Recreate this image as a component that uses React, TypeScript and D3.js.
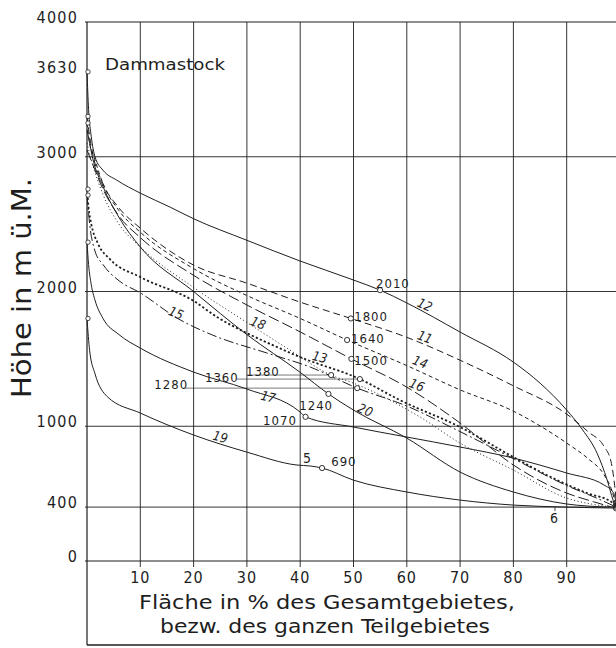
import * as d3 from "d3";

type Pt = [number, number];

// hypsometric curves: [area %, height m]
const curve12: Pt[] = [[0, 3630], [0.3, 3350], [0.8, 3150], [1.5, 3000], [3, 2900], [5.6, 2826], [10, 2730], [15.6, 2626], [20, 2540], [30, 2380], [40, 2226], [50, 2085], [55, 2010], [60, 1915], [70, 1699], [80, 1476], [85, 1320], [90, 1120], [93, 972], [95.7, 800], [97.6, 600], [98.7, 452], [99.2, 400]];
const curve11: Pt[] = [[0, 3300], [0.5, 3150], [1.2, 3000], [3, 2800], [6, 2620], [10, 2470], [20, 2196], [30, 2062], [40, 1921], [49.5, 1800], [60, 1660], [70, 1490], [80, 1300], [90, 1090], [94, 960], [97, 850], [98.3, 740], [99, 560], [99.4, 400]];
const curve14: Pt[] = [[0, 3250], [0.5, 3100], [1.3, 3000], [3, 2800], [6, 2600], [10, 2440], [20, 2170], [30, 1970], [40, 1800], [48.8, 1640], [60, 1450], [70, 1270], [80, 1112], [90, 875], [94, 760], [97, 640], [98.5, 520], [99.3, 400]];
const curve16: Pt[] = [[0, 3050], [1, 2950], [3, 2760], [6, 2560], [10, 2400], [20, 2120], [30, 1900], [40, 1700], [49.6, 1500], [60, 1290], [70, 1024], [80, 712], [90, 504], [95, 440], [98.5, 400]];
const curve13: Pt[] = [[0, 3100], [1, 2950], [3, 2720], [6, 2500], [10, 2330], [20, 2030], [30, 1770], [37.5, 1580], [45.8, 1380], [50, 1320], [62.5, 1068], [70, 875], [80, 675], [90, 467], [95, 420], [99, 400]];
const curve18: Pt[] = [[0, 2760], [0.3, 2620], [0.8, 2500], [2, 2360], [4.3, 2240], [10, 2107], [20, 1930], [24.4, 1810], [30, 1691], [35.7, 1587], [40, 1513], [51.2, 1350], [58.7, 1194], [70, 994], [80, 771], [87, 623], [93.8, 504], [98.7, 430], [99.3, 400]];
const curve15: Pt[] = [[0, 2715], [0.5, 2500], [1.5, 2300], [3, 2200], [6, 2080], [10, 1990], [17, 1800], [23.6, 1676], [33.8, 1543], [41.9, 1439], [50.7, 1283], [60, 1150], [70, 960], [80, 760], [90, 560], [96, 460], [99.3, 400]];
const curve17: Pt[] = [[0, 2366], [0.3, 2200], [0.8, 2050], [1.5, 1936], [3, 1800], [6, 1680], [10, 1580], [20, 1402], [30, 1276], [40, 1105], [41, 1070], [50, 994], [60, 920], [70, 846], [80, 764], [90, 653], [97, 564], [98.8, 504], [99.4, 400]];
const curve20: Pt[] = [[0, 3200], [0.5, 3100], [1, 3000], [3, 2780], [6, 2550], [10, 2330], [20, 2000], [30, 1680], [40, 1400], [45.3, 1240], [50, 1120], [60, 912], [70, 660], [80, 512], [90, 423], [98, 400]];
const curve19: Pt[] = [[0, 1800], [0.5, 1560], [1.5, 1390], [3.8, 1220], [10, 1098], [20, 935], [30, 808], [39.4, 712], [41.9, 705], [44.1, 690], [50, 600], [60, 512], [70, 452], [80, 415], [90, 400], [99, 393]];

const curveIds = ["12", "11", "14", "16", "13", "18", "15", "17", "20", "19"];
const curveData = [curve12, curve11, curve14, curve16, curve13, curve18, curve15, curve17, curve20, curve19];

// curve number labels, placed at [area %, height m]
const curveLabelPos: Pt[] = [[63.4, 1900], [63.4, 1662], [62.5, 1476], [61.9, 1306], [43.7, 1513], [32.1, 1765], [16.7, 1840], [34.0, 1217], [52.2, 1120], [25.0, 920]];
const extraLabels = ["5", "6"];
const extraLabelPos: Pt[] = [[41.3, 764], [87.6, 320]];

// marked heights on the curves
const markValues = [2010, 1800, 1640, 1500, 1380, 1360, 1280, 1240, 1070, 690];
const markPos: Pt[] = [[55, 2010], [49.5, 1800], [48.8, 1640], [49.6, 1500], [45.8, 1380], [51.2, 1350], [50.7, 1283], [45.3, 1240], [41, 1070], [44.1, 690]];
const markLabelPos: Pt[] = [[57.4, 2062], [53.3, 1817], [52.7, 1654], [53.3, 1491], [33.0, 1409], [25.3, 1365], [15.8, 1313], [43.0, 1157], [36.2, 1046], [48.2, 742]];
const markLeaderFrom = [null, null, null, null, 30, 28.1, 18, null, null, null];

const startHeights = [3630, 3300, 3250, 2760, 2715, 2366, 1800];
const endHeights = [430, 410, 400, 390];

const xTicks = [10, 20, 30, 40, 50, 60, 70, 80, 90];
const yGrid = [0, 400, 1000, 2000, 3000, 4000];
const yLabels = [0, 400, 1000, 2000, 3000, 3630, 4000];

const W = 616, H = 648;
const INK = "#1e1e1e";
const FONT = "'DejaVu Sans Condensed', 'DejaVu Sans', sans-serif";

const dashes: Record<string, string | undefined> = {
    "12": undefined, "11": "7,4", "14": "4,3", "16": "11,4", "13": "1,2.5",
    "18": "2.2,2.2", "15": "10,3,2,3", "17": undefined, "20": undefined, "19": undefined
};
const widths: Record<string, number> = {"13": 1, "18": 1.8};
const angles: Record<string, number> = {
    "12": 24, "11": 20, "14": 22, "16": 22, "13": 14, "18": 22, "15": 22, "17": 14, "20": 24, "19": 14
};

export default function App() {
    const x = d3.scaleLinear().domain([0, 100]).range([87, 620]);
    const y = d3.scaleLinear().domain([0, 4000]).range([561, 22]);

    const line = d3.line<Pt>()
        .x(d => x(d[0]))
        .y(d => y(d[1]))
        .curve(d3.curveMonotoneX);

    return <div style={{position: "absolute", left: 0, top: 0}}>
        <svg width={W} height={H} viewBox={`0 0 ${W} ${H}`} style={{display: "block", background: "#fff"}}
             fontFamily={FONT}>
            {/* grid */}
            {xTicks.map(t => <line key={"gx" + t} x1={x(t)} x2={x(t)} y1={y(4000)} y2={y(0) + 6}
                                   stroke={INK} strokeWidth={0.9}/>)}
            {yGrid.map(t => <line key={"gy" + t} x1={x(0) - 2} x2={W} y1={y(t)} y2={y(t)}
                                  stroke={INK} strokeWidth={t === 0 || t === 4000 ? 1.1 : 0.9}/>)}
            {/* frame */}
            <line x1={x(0)} x2={x(0)} y1={y(4000)} y2={645} stroke={INK} strokeWidth={1.2}/>
            <line x1={x(0)} x2={W} y1={645} y2={645} stroke={INK} strokeWidth={1.3}/>

            {/* y labels */}
            {yLabels.map(t => <text key={"yl" + t} x={78} y={y(t) + 1} textAnchor="end" fontSize={16}
                                    letterSpacing={1.2} fill={INK}>{t}</text>)}
            {/* x labels */}
            {xTicks.map(t => <text key={"xl" + t} x={x(t)} y={583} textAnchor="middle" fontSize={16}
                                   letterSpacing={1} fill={INK}>{t}</text>)}

            <text x={22} y={288} transform="rotate(-90 22 288)" textAnchor="middle" dominantBaseline="central"
                  fontSize={26} fill={INK} textLength={220} lengthAdjust="spacingAndGlyphs">Höhe in m ü.M.</text>
            <text x={327} y={609} textAnchor="middle" fontSize={19.5} fill={INK} textLength={376}
                  lengthAdjust="spacingAndGlyphs">Fläche in % des Gesamtgebietes,</text>
            <text x={325} y={633} textAnchor="middle" fontSize={19.5} fill={INK} textLength={330}
                  lengthAdjust="spacingAndGlyphs">bezw. des ganzen Teilgebietes</text>

            <text x={105} y={70} fontSize={16} fill={INK} textLength={120}
                  lengthAdjust="spacingAndGlyphs">Dammastock</text>

            {/* curves */}
            {curveData.map((c, i) => <path key={"c" + i} d={line(c) ?? ""} fill="none" stroke={INK}
                                           strokeWidth={widths[curveIds[i]] ?? 1}
                                           strokeDasharray={dashes[curveIds[i]]}/>)}

            {/* leader lines for marked heights */}
            {markPos.map((p, i) => markLeaderFrom[i] == null ? null :
                <line key={"ld" + i} x1={x(markLeaderFrom[i] as number)} x2={x(p[0])} y1={y(p[1])} y2={y(p[1])}
                      stroke={INK} strokeWidth={0.6}/>)}

            {/* marks */}
            {markPos.map((p, i) => <circle key={"m" + i} cx={x(p[0])} cy={y(p[1])} r={2.6} fill="#fff"
                                           stroke={INK} strokeWidth={0.9}/>)}
            {startHeights.map(h => <circle key={"s" + h} cx={x(0) + 1} cy={y(h)} r={2.2} fill="#fff"
                                           stroke={INK} strokeWidth={0.8}/>)}
            {endHeights.map((h, i) => <circle key={"e" + i} cx={x(99.2)} cy={y(h)} r={2.4} fill="none"
                                              stroke={INK} strokeWidth={0.8}/>)}

            {markValues.map((v, i) => <text key={"mv" + i} x={x(markLabelPos[i][0])} y={y(markLabelPos[i][1])}
                                            textAnchor="middle" dominantBaseline="central" fontSize={13}
                                            fill={INK} letterSpacing={1}>{v}</text>)}

            {/* curve numbers */}
            {curveIds.map((id, i) => {
                const px = x(curveLabelPos[i][0]), py = y(curveLabelPos[i][1]);
                return <text key={"cl" + id} x={px} y={py} transform={`rotate(${angles[id]} ${px} ${py})`}
                             textAnchor="middle" dominantBaseline="central" fontSize={13}
                             fontStyle="italic" fill={INK}>{id}</text>;
            })}
            {extraLabels.map((t, i) => <text key={"xl2" + t} x={x(extraLabelPos[i][0])} y={y(extraLabelPos[i][1])}
                                             textAnchor="middle" dominantBaseline="central" fontSize={14}
                                             fill={INK}>{t}</text>)}
            <line x1={x(87.8)} x2={x(87.8)} y1={y(400)} y2={y(400) + 4} stroke={INK} strokeWidth={0.8}/>
        </svg>
    </div>;
}
